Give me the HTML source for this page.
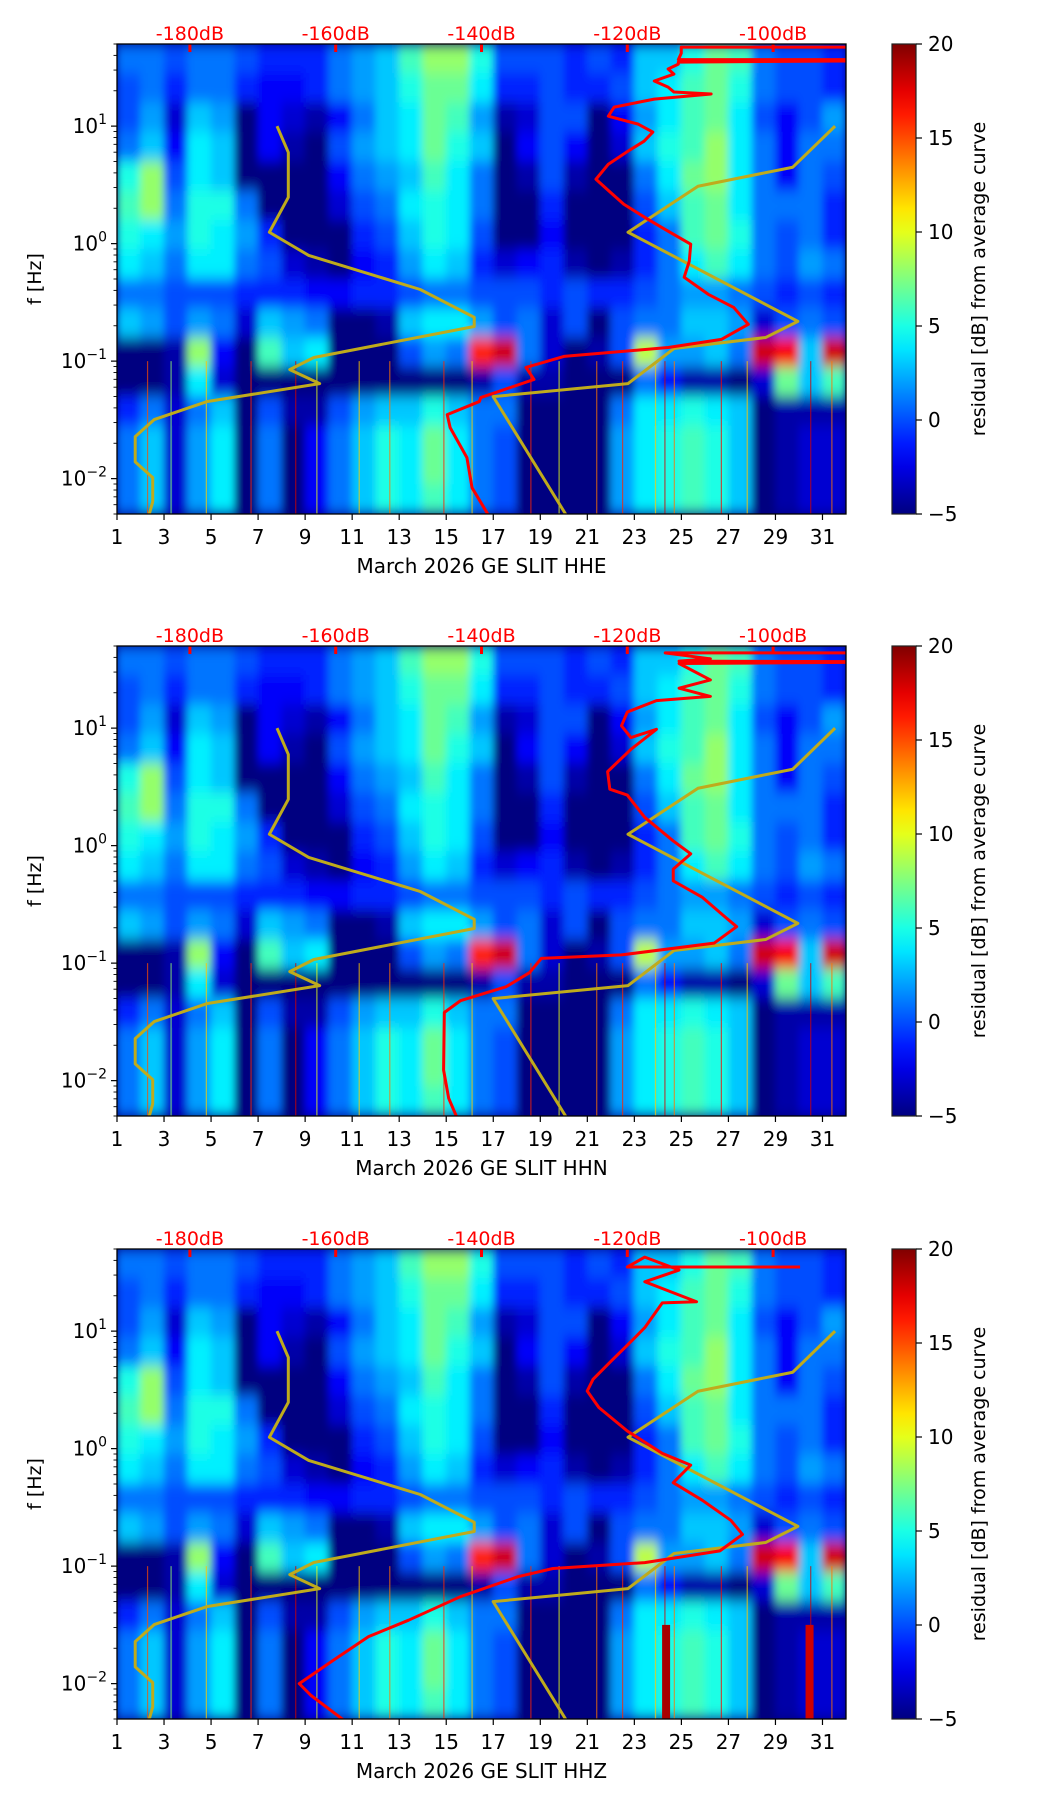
<!DOCTYPE html>
<html><head><meta charset="utf-8">
<style>
html,body{margin:0;padding:0;background:#fff;}
svg{display:block;font-family:"DejaVu Sans","Liberation Sans",sans-serif;}
</style></head>
<body>
<svg id="fig" width="1052" height="1806" viewBox="0 0 1052 1806" xmlns="http://www.w3.org/2000/svg">
<defs>
<filter id="blur" x="0" y="0" width="1" height="1"><feGaussianBlur stdDeviation="4 7" edgeMode="duplicate"/></filter>
<linearGradient id="jetgrad" x1="0" y1="1" x2="0" y2="0"></linearGradient>
</defs>
</svg>
<script>
// ---- data ----
const days = [1,2,3,4,5,6,7,8,9,10,11,12,13,14,15,16,17,18,19,20,21,22,23,24,25,26,27,28,29,30,31];
const channels = ["HHE","HHN","HHZ"];
const dbTicks = [-180,-160,-140,-120,-100];
const cbTicks = [-5,0,5,10,15,20];
// residual rows (dB), top (≈37 Hz) to bottom (≈0.007 Hz), one value per day
const row0  = [1,1,0,1,1,0,-1,-1,-1,1,2,3,6,8,8,5,0,0,0,-1,0,-1,3,3,5,7,6,1,0,0,-1];
const row1  = [0,1,-1,1,1,-1,-2,-2,-1,1,2,3,5,7,7,4,-1,-1,0,-1,-1,0,3,4,6,7,5,1,0,0,-1];
const row2  = [0,2,-3,3,2,-5,-2,-3,-4,-2,1,3,4,7,6,2,-4,-3,0,0,-5,-2,2,4,6,7,4,0,-2,0,2];
const row3  = [1,3,-2,4,3,-5,-2,-4,-5,0,2,3,4,7,5,3,-5,-2,0,-2,-5,-3,3,5,6,8,4,1,-2,1,1];
const row4  = [5,8,0,4,3,-5,-5,-5,-5,-2,1,2,3,6,4,1,-5,-4,0,-4,-5,-5,1,4,7,8,4,1,-2,1,0];
const row5  = [6,8,1,5,5,1,-5,-5,-5,-3,0,1,4,5,4,1,-5,-5,-1,-5,-5,-5,0,3,6,7,4,1,1,1,-1];
const row6  = [5,4,2,5,4,2,-1,-5,-5,-5,-1,0,3,5,4,0,-5,-5,-2,-5,-5,-5,-1,1,6,7,5,1,0,1,-1];
const row7  = [4,3,1,4,4,1,0,-3,-4,-5,-2,-1,2,4,3,-1,-3,-2,-1,-4,-5,-4,-1,1,4,6,4,1,0,2,1];
const row8  = [1,1,0,0,0,-1,-1,-1,-2,-2,-1,-1,0,1,1,0,0,0,-1,0,-1,-1,0,1,2,2,1,0,-1,0,-1];
const row9  = [3,2,0,2,1,-3,3,2,1,-5,-5,-4,3,4,4,2,0,1,-3,0,-5,0,1,1,3,3,2,-3,0,1,0];
const row10 = [-5,-5,-4,8,-2,-5,6,3,4,-5,-5,-5,0,2,1,16,18,1,-3,-5,-4,0,9,2,2,3,1,18,17,3,18];
const row11 = [-5,-5,-4,4,-3,-5,-5,-5,-5,-5,-5,-5,-5,-5,-5,-4,0,-4,-4,-5,-5,-5,1,-2,-4,-4,-5,-3,7,3,6];
const row12 = [-1,1,-3,1,3,-5,0,-4,-4,0,2,3,3,5,3,1,1,-5,-5,-5,-5,1,4,4,5,4,3,-5,-4,-4,-4];
const row13 = [1,3,-3,2,4,-5,1,-5,-2,1,3,5,4,7,4,1,0,-5,-5,-5,-5,2,4,5,6,5,3,-5,-4,-3,-3];
const row14 = [1,3,-3,2,4,-5,1,-5,-2,1,3,5,4,7,4,1,0,-5,-5,-5,-5,2,4,5,6,5,3,-5,-4,-3,-3];
const row15 = [1,3,-3,2,4,-5,1,-5,-2,1,3,5,4,6,4,1,0,-5,-5,-5,-5,2,4,5,6,5,3,-5,-4,-3,-3];
const rows = [row0,row1,row2,row3,row4,row5,row6,row7,row8,row9,row10,row11,row12,row13,row14,row15];
// thin streaks at low frequency: day position and value
const streakDays = [2.3,3.3,4.8,6.7,8.6,9.5,11.3,12.6,14.9,16.1,18.6,19.8,21.4,22.5,23.9,24.3,24.7,26.7,27.8,30.5,31.4];
const streakVals = [15,8,12,16,18,10,12,14,16,12,16,10,14,16,12,18,14,17,12,18,14];
// strong wide streaks in HHZ
const zStreakDays = [24.35,30.45];
const zStreakVals = [19,18];
// NLNM-like yellow curve
const nlnmDb = [-168.05,-166.5,-166.5,-169.1,-163.7,-148.4,-141.0,-141.0,-163.0,-166.3,-162.2,-177.7,-184.9,-187.5,-187.5,-185.1,-185.1,-185.6];
const nlnmF  = [10,5.97,2.48,1.25,0.794,0.407,0.236,0.197,0.1074,0.0847,0.0644,0.0452,0.0318,0.0228,0.0139,0.0102,0.00635,0.00492];
// NHNM-like yellow curve
const nhnmDb = [-91.5,-97.3,-110.3,-119.9,-96.6,-101.0,-113.6,-119.9,-138.4,-128.4];
const nhnmF  = [10,4.47,3.08,1.25,0.218,0.159,0.128,0.0644,0.0499,0.00492];
// average PSD curves (dB, log10 f)
const red1Db = [-85,-112.6,-112.6,-113,-85,-85,-113,-113.0,-114.4,-113.6,-116.3,-114.4,-113.6,-108.5,-116.3,-121.8,-122.6,-118.5,-116.5,-117.7,-119.9,-122.6,-124.3,-122.5,-120.5,-117.2,-114.4,-111.3,-111.5,-112.2,-108.9,-105.4,-103.4,-107.1,-114.4,-128.7,-133.9,-132.8,-140.1,-140.3,-144.7,-144.3,-142.0,-141.3,-139.0];
const red1LogF = [1.672,1.672,1.62,1.566,1.566,1.556,1.545,1.528,1.486,1.443,1.384,1.332,1.290,1.273,1.230,1.162,1.085,1.017,0.949,0.872,0.787,0.676,0.548,0.447,0.336,0.208,0.106,-0.005,-0.150,-0.286,-0.431,-0.543,-0.687,-0.815,-0.884,-0.960,-1.054,-1.156,-1.310,-1.344,-1.455,-1.566,-1.821,-2.077,-2.316];
const red2Db = [-88,-114.8,-108.6,-112.9,-88,-88,-112.9,-108.6,-112.9,-108.6,-116,-120,-120.8,-119.5,-116,-119.5,-122.7,-122.4,-120,-117.6,-113.7,-111.3,-113.7,-113.7,-109.7,-106.9,-105,-108.1,-120.8,-131.8,-133.4,-136.6,-142.9,-145.1,-145.2,-144.5,-143.4];
const red2LogF = [1.64,1.64,1.59,1.57,1.566,1.56,1.55,1.41,1.34,1.27,1.234,1.137,1.02,0.92,0.99,0.82,0.63,0.48,0.43,0.24,0.04,-0.07,-0.2,-0.3,-0.44,-0.59,-0.69,-0.83,-0.93,-0.96,-1.08,-1.2,-1.32,-1.42,-1.91,-2.15,-2.31];
const red3Db = [-96.3,-120,-117.6,-112.9,-117.6,-110.5,-115.2,-117.6,-120,-122.3,-124.7,-125.5,-123.9,-120,-115.2,-111.3,-113.7,-109.7,-105.8,-104.2,-107.3,-117.6,-130.2,-135,-142.9,-150,-155.5,-160.3,-165,-163.4,-158.7];
const red3LogF = [1.546,1.546,1.63,1.52,1.42,1.25,1.24,1.03,0.88,0.74,0.59,0.49,0.35,0.15,-0.04,-0.14,-0.29,-0.44,-0.61,-0.73,-0.87,-0.97,-1.02,-1.09,-1.26,-1.46,-1.6,-1.8,-2.0,-2.1,-2.32];
const redDbs = [red1Db,red2Db,red3Db];
const redLogFs = [red1LogF,red2LogF,red3LogF];

// ---- layout ----
const NS="http://www.w3.org/2000/svg";
const svg=document.getElementById('fig');
const AX_L=117, AX_R=846, AX_H=470, CB_L=892, CB_R=916;
const panelTops=[44,646,1249];
const LOGMAX=Math.log10(50), LOGMIN=Math.log10(0.005);
const DAY0=1, DAY1=32, DB0=-190, DB1=-90;
function xDay(d){return AX_L+(d-DAY0)/(DAY1-DAY0)*(AX_R-AX_L);}
function xDb(v){return AX_L+(v-DB0)/(DB1-DB0)*(AX_R-AX_L);}
function yLog(top,lf){return top+(LOGMAX-lf)/(LOGMAX-LOGMIN)*AX_H;}
function jet(v){
  let t=(v+5)/25; t=Math.max(0,Math.min(1,t));
  const c=x=>Math.round(255*Math.max(0,Math.min(1,x)));
  return `rgb(${c(1.5-Math.abs(4*t-3))},${c(1.5-Math.abs(4*t-2))},${c(1.5-Math.abs(4*t-1))})`;
}
function mk(tag,attrs,parent){const e=document.createElementNS(NS,tag);for(const k in attrs)e.setAttribute(k,attrs[k]);(parent||svg).appendChild(e);return e;}

const grad=document.getElementById('jetgrad');
for(let i=0;i<=20;i++){const s=document.createElementNS(NS,'stop');s.setAttribute('offset',(i/20));s.setAttribute('stop-color',jet(-5+25*i/20));grad.appendChild(s);}

panelTops.forEach((top,p)=>{
  const clipId='clip'+p;
  const cp=mk('clipPath',{id:clipId},svg.querySelector('defs'));
  mk('rect',{x:AX_L,y:top,width:AX_R-AX_L,height:AX_H},cp);
  const panel=mk('g',{});
  
  
  const plot=mk('g',{'clip-path':`url(#${clipId})`},panel);
  
  
  mk('rect',{x:AX_L,y:top,width:AX_R-AX_L,height:AX_H,fill:'#00007f'},plot);
  const hm=mk('g',{filter:'url(#blur)'},plot);
  const step=(LOGMAX-LOGMIN)/rows.length;
  rows.forEach((r,ri)=>{
    const lfTop=LOGMAX-ri*step, lfBot=LOGMAX-(ri+1)*step;
    r.forEach((v,di)=>{
      const x0=xDay(days[di]), x1=xDay(days[di]+1);
      const y0=yLog(top,lfTop), y1=yLog(top,lfBot);
      const c=mk('rect',{x:x0-0.3,y:y0-0.3,width:x1-x0+0.6,height:y1-y0+0.6,fill:jet(v)},hm);
      
      
    });
  });
  streakDays.forEach((d,i)=>{
    const s=mk('rect',{x:xDay(d)-0.6,y:yLog(top,-1.0),width:1.2,height:yLog(top,LOGMIN)-yLog(top,-1.0),fill:jet(streakVals[i]),opacity:0.7},plot);
    
    
  });
  if(p===2){
    zStreakDays.forEach((d,i)=>{
      const s=mk('rect',{x:xDay(d)-4,y:yLog(top,-1.5),width:8,height:yLog(top,LOGMIN)-yLog(top,-1.5),fill:jet(zStreakVals[i])},plot);
      
      
    });
  }
  const ptsN=nlnmDb.map((v,i)=>xDb(v)+','+yLog(top,Math.log10(nlnmF[i]))).join(' ');
  const ln=mk('polyline',{points:ptsN,fill:'none',stroke:'#bfab1c','stroke-width':3,'stroke-linejoin':'round'},plot);
  
  
  const ptsH=nhnmDb.map((v,i)=>xDb(v)+','+yLog(top,Math.log10(nhnmF[i]))).join(' ');
  const hn=mk('polyline',{points:ptsH,fill:'none',stroke:'#bfab1c','stroke-width':3,'stroke-linejoin':'round'},plot);
  
  
  const rd=redDbs[p], rl=redLogFs[p];
  const ptsR=rd.map((v,i)=>xDb(v)+','+yLog(top,rl[i])).join(' ');
  const rline=mk('polyline',{points:ptsR,fill:'none',stroke:'#ff0000','stroke-width':3,'stroke-linejoin':'round'},plot);
  
  
  dbTicks.forEach(v=>{
    const x=xDb(v);
    mk('line',{x1:x,x2:x,y1:top,y2:top+8,stroke:'#ff0000','stroke-width':3},panel);
    const t=mk('text',{x:x,y:top-4,'text-anchor':'middle','font-size':19,fill:'#ff0000'},panel);
    t.textContent=v+'dB';
    
    
  });
  mk('rect',{x:AX_L,y:top,width:AX_R-AX_L,height:AX_H,fill:'none',stroke:'#000','stroke-width':1.3},panel);
  for(let d=1;d<=31;d+=2){
    const x=xDay(d);
    mk('line',{x1:x,x2:x,y1:top+AX_H,y2:top+AX_H+6,stroke:'#000','stroke-width':1.2},panel);
    const t=mk('text',{x:x,y:top+AX_H+30,'text-anchor':'middle','font-size':20,fill:'#000'},panel);
    t.textContent=d;
    
    
  }
  const xl=mk('text',{x:(AX_L+AX_R)/2,y:top+AX_H+59,'text-anchor':'middle','font-size':20,fill:'#000'},panel);
  xl.textContent='March 2026 GE SLIT  '+channels[p];
  
  
  for(let e=-3;e<=1;e++){
    for(let m=1;m<=9;m++){
      const lf=e+Math.log10(m);
      if(lf<LOGMIN-1e-9||lf>LOGMAX+1e-9)continue;
      const y=yLog(top,lf);
      mk('line',{x1:AX_L,x2:AX_L-(m===1?6:3.5),y1:y,y2:y,stroke:'#000','stroke-width':m===1?1.2:0.9},panel);
      if(m===1){
        const t=mk('text',{x:AX_L-10,y:y+7,'text-anchor':'end','font-size':20,fill:'#000'},panel);
        t.innerHTML='10<tspan font-size="14" dy="-9">'+(e<0?'\u2212'+(-e):e)+'</tspan>';
        
        
      }
    }
  }
  const yl=mk('text',{x:0,y:0,transform:`translate(41,${top+AX_H/2}) rotate(-90)`,'text-anchor':'middle','font-size':19,fill:'#000'},panel);
  yl.textContent='f [Hz]';
  
  
  const cb=mk('g',{},panel);
  
  
  mk('rect',{x:CB_L,y:top,width:CB_R-CB_L,height:AX_H,fill:'url(#jetgrad)',stroke:'#222','stroke-width':1.2},cb);
  cbTicks.forEach(v=>{
    const y=top+AX_H-(v+5)/25*AX_H;
    mk('line',{x1:CB_R,x2:CB_R+6,y1:y,y2:y,stroke:'#000','stroke-width':1.2},cb);
    const t=mk('text',{x:CB_R+12,y:y+7,'font-size':20,fill:'#000'},cb);
    t.textContent=v<0?'\u2212'+(-v):v;
    
    
  });
  const cl=mk('text',{x:0,y:0,transform:`translate(985,${top+AX_H/2}) rotate(-90)`,'text-anchor':'middle','font-size':19,fill:'#000'},cb);
  cl.textContent='residual [dB] from average curve';
  
  
});
</script>
</body></html>
